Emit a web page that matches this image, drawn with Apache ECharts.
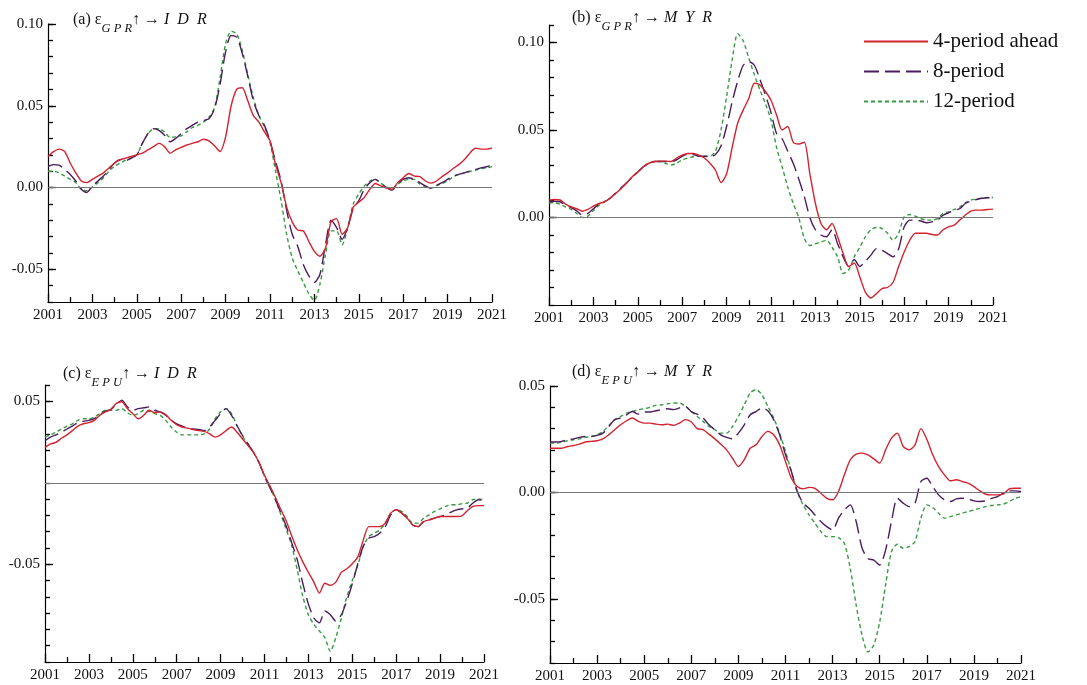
<!DOCTYPE html>
<html><head><meta charset="utf-8">
<script src="https://cdn.jsdelivr.net/npm/echarts@6/dist/echarts.min.js"></script>
<style>html,body{margin:0;padding:0;background:#fff}#c{width:1087px;height:685px}</style>
</head><body><div id="c"></div>
<script>
const quarters = [2001,2001.25,2001.5,2001.75,2002,2002.25,2002.5,2002.75,2003,2003.25,2003.5,2003.75,2004,2004.25,2004.5,2004.75,2005,2005.25,2005.5,2005.75,2006,2006.25,2006.5,2006.75,2007,2007.25,2007.5,2007.75,2008,2008.25,2008.5,2008.75,2009,2009.25,2009.5,2009.75,2010,2010.25,2010.5,2010.75,2011,2011.25,2011.5,2011.75,2012,2012.25,2012.5,2012.75,2013,2013.25,2013.5,2013.75,2014,2014.25,2014.5,2014.75,2015,2015.25,2015.5,2015.75,2016,2016.25,2016.5,2016.75,2017,2017.25,2017.5,2017.75,2018,2018.25,2018.5,2018.75,2019,2019.25,2019.5,2019.75,2020,2020.25,2020.5,2020.75,2021];
const seriesNames = ['4-period ahead','8-period','12-period'];

// (a) GPR -> IDR
const aRed = [0.019,0.022,0.0235,0.022, 0.015,0.009,0.004,0.003, 0.005,0.007,0.009,0.012, 0.015,0.017,0.018,0.019, 0.020,0.021,0.023,0.025, 0.027,0.025,0.021,0.023, 0.0245,0.026,0.027,0.028, 0.0295,0.0285,0.0255,0.022, 0.031,0.050,0.060,0.061, 0.053,0.044,0.040,0.034, 0.0285,0.014,0.003,-0.012, -0.021,-0.026,-0.0265,-0.033, -0.039,-0.042,-0.037,-0.021, -0.019,-0.0286,-0.0245,-0.012, -0.009,-0.006,-0.001,0.0025, 0.001,-0.0004,-0.001,0.003, 0.006,0.0086,0.007,0.0067, 0.004,0.0027,0.004,0.0067, 0.009,0.0116,0.014,0.017, 0.021,0.024,0.0235,0.0235, 0.024];
const aPurple = [0.013,0.014,0.0137,0.011, 0.008,0.004,-0.001,-0.003, 0.001,0.004,0.007,0.011, 0.015,0.017,0.0165,0.018, 0.020,0.027,0.033,0.036, 0.035,0.032,0.028,0.030, 0.033,0.036,0.038,0.040, 0.041,0.042,0.048,0.063, 0.083,0.093,0.092,0.082, 0.068,0.053,0.044,0.038, 0.0285,0.016,0.004,-0.014, -0.0286,-0.036,-0.047,-0.054, -0.058,-0.053,-0.035,-0.020, -0.0245,-0.0316,-0.0245,-0.013, -0.008,-0.001,0.003,0.005, 0.0025,0,-0.0016,0.0025, 0.005,0.006,0.005,0.003, 0.001,-0.0004,0.0014,0.003, 0.005,0.007,0.008,0.009, 0.010,0.011,0.012,0.0127, 0.0137];
const aGreen = [0.010,0.010,0.009,0.007, 0.005,0.003,-0.001,-0.002, 0.0004,0.003,0.006,0.010, 0.013,0.015,0.0167,0.018, 0.020,0.027,0.0327,0.036, 0.036,0.034,0.0306,0.031, 0.0316,0.034,0.0367,0.038, 0.040,0.043,0.049,0.067, 0.088,0.0955,0.094,0.084, 0.069,0.055,0.044,0.037, 0.0275,0.010,-0.008,-0.0286, -0.043,-0.051,-0.058,-0.065, -0.069,-0.059,-0.041,-0.0265, -0.0265,-0.035,-0.0245,-0.010, -0.004,0.001,0.004,0.005, 0.0025,0.0004,-0.001,0.002, 0.004,0.005,0.005,0.002, 0.0006,-0.0004,0.001,0.0025, 0.004,0.0065,0.008,0.009, 0.0098,0.0106,0.0116,0.012, 0.0128];

// (b) GPR -> MYR
const bRed = [0.0099,0.0103,0.010,0.0076, 0.006,0.005,0.0036,0.0046, 0.0065,0.008,0.009,0.011, 0.0137,0.0166,0.0198,0.0233, 0.026,0.029,0.031,0.032, 0.0322,0.0322,0.032,0.034, 0.0357,0.0366,0.0366,0.0357, 0.034,0.031,0.027,0.020, 0.025,0.040,0.054,0.0615, 0.068,0.0767,0.0758,0.072, 0.067,0.0586,0.050,0.052, 0.043,0.042,0.043,0.025, 0.008,-0.0034,-0.007,-0.0034, -0.011,-0.0206,-0.028,-0.026, -0.034,-0.0426,-0.046,-0.0435, -0.0406,-0.040,-0.037,-0.028, -0.0197,-0.013,-0.009,-0.009, -0.009,-0.0097,-0.010,-0.007, -0.0053,-0.0044,-0.0015,0.0013, 0.0036,0.0042,0.0042,0.0046, 0.0048];
const bPurple = [0.009,0.0093,0.009,0.007, 0.0057,0.0038,0.0013,0.0023, 0.005,0.0076,0.009,0.011, 0.014,0.017,0.0198,0.0233, 0.026,0.029,0.031,0.032, 0.032,0.032,0.032,0.033, 0.035,0.036,0.036,0.035, 0.035,0.0347,0.036,0.041, 0.052,0.066,0.078,0.087, 0.089,0.087,0.079,0.070, 0.060,0.048,0.045,0.038, 0.031,0.022,0.012,0.000, -0.007,-0.010,-0.011,-0.007, -0.015,-0.0225,-0.028,-0.024, -0.028,-0.025,-0.0215,-0.0178, -0.0187,-0.0206,-0.0225,-0.0178, -0.0053,-0.0015,-0.0015,-0.002, -0.003,-0.0025,-0.0015,0.0013, 0.0027,0.0042,0.005,0.008, 0.0094,0.0103,0.011,0.0113, 0.0113];
const bGreen = [0.0084,0.0084,0.0076,0.006, 0.0046,0.0023,0,0.0008, 0.004,0.007,0.009,0.011, 0.0137,0.0166,0.0198,0.023, 0.026,0.029,0.031,0.032, 0.032,0.031,0.030,0.031, 0.033,0.034,0.0347,0.035, 0.035,0.035,0.038,0.050, 0.069,0.090,0.105,0.101, 0.091,0.0815,0.073,0.065, 0.0557,0.040,0.029,0.0176, 0.008,0.000,-0.012,-0.016, -0.015,-0.014,-0.013,-0.017, -0.0225,-0.032,-0.030,-0.0225, -0.017,-0.011,-0.007,-0.0057, -0.0063,-0.009,-0.013,-0.009, 0.0004,0.0017,0.0008,-0.0006, -0.0015,-0.0015,-0.0006,0.0023, 0.0032,0.0046,0.006,0.0084, 0.0099,0.0107,0.011,0.0114, 0.0114];

// (c) EPU -> IDR
const cRed = [0.0217,0.0238,0.0248,0.0273, 0.0294,0.032,0.0348,0.0362, 0.0369,0.0383,0.0414,0.0435, 0.045,0.0487,0.0497,0.0455, 0.0424,0.0393,0.0414,0.0445, 0.043,0.0435,0.0418,0.0383, 0.0356,0.0342,0.0335,0.0327, 0.032,0.0315,0.030,0.028, 0.0294,0.032,0.0342,0.031, 0.0269,0.0228,0.0186,0.0124, 0.0046,-0.002,-0.009,-0.0166, -0.0238,-0.033,-0.0414,-0.0487, -0.055,-0.061,-0.0677,-0.0617, -0.063,-0.061,-0.055,-0.0528, -0.0497,-0.0455,-0.0352,-0.0269, -0.0269,-0.0269,-0.0248,-0.0186, -0.0166,-0.0186,-0.0217,-0.0259, -0.0269,-0.0238,-0.0228,-0.0217, -0.0207,-0.0207,-0.0207,-0.0207, -0.0203,-0.017,-0.0145,-0.014, -0.014];
const cPurple = [0.0259,0.028,0.0294,0.031, 0.033,0.0348,0.0369,0.0377, 0.0383,0.0393,0.0418,0.0439, 0.045,0.048,0.0507,0.0466, 0.0445,0.0455,0.046,0.0466, 0.0445,0.0435,0.0414,0.0383, 0.0362,0.0348,0.0335,0.033, 0.0327,0.032,0.0342,0.0383, 0.0424,0.0455,0.0414,0.035, 0.029,0.0238,0.0186,0.0124, 0.004,-0.003,-0.0104,-0.0186, -0.027,-0.0373,-0.0476,-0.062, -0.0745,-0.083,-0.086,-0.0787, -0.081,-0.0849,-0.081,-0.0725, -0.062,-0.0497,-0.039,-0.034, -0.033,-0.031,-0.027,-0.0197, -0.0166,-0.0186,-0.0217,-0.0259, -0.0269,-0.0238,-0.0228,-0.0217, -0.0207,-0.0197,-0.018,-0.0166, -0.016,-0.0155,-0.0124,-0.0104, -0.011];
const cGreen = [0.028,0.0294,0.031,0.033, 0.0348,0.0362,0.0383,0.0393, 0.0393,0.0404,0.0424,0.0445, 0.0445,0.0445,0.0455,0.043, 0.0414,0.0424,0.0445,0.0439, 0.0424,0.0414,0.0383,0.0342, 0.031,0.0294,0.0294,0.0294, 0.0294,0.030,0.033,0.0393, 0.0435,0.0455,0.0424,0.035, 0.0286,0.0238,0.0186,0.0124, 0.004,-0.003,-0.0104,-0.0197, -0.029,-0.039,-0.054,-0.070, -0.081,-0.087,-0.091,-0.095, -0.1035,-0.095,-0.083,-0.070, -0.060,-0.0507,-0.039,-0.033, -0.031,-0.029,-0.0248,-0.0186, -0.0166,-0.0176,-0.0207,-0.0248, -0.0248,-0.0217,-0.0197,-0.0176, -0.016,-0.0145,-0.0135,-0.0135, -0.0128,-0.0124,-0.0104,-0.0099, -0.0104];

// (d) EPU -> MYR
const dRed = [0.0208,0.0208,0.0208,0.0216, 0.0221,0.0227,0.0237,0.024, 0.0243,0.0252,0.0271,0.0295, 0.0318,0.0337,0.035,0.0334, 0.0326,0.0326,0.0321,0.0318, 0.0321,0.0315,0.0326,0.0342, 0.0331,0.030,0.0295,0.0274, 0.0252,0.0227,0.020,0.0161, 0.0122,0.0154,0.0208,0.0224, 0.0263,0.0287,0.0271,0.0224, 0.0146,0.0067,0.0028,0.0017, 0.0024,0.002,-0.0003,-0.0027, -0.0034,0.0005,0.0083,0.0154, 0.018,0.0185,0.0177,0.0158, 0.0138,0.020,0.0255,0.0279, 0.0216,0.020,0.0224,0.030, 0.025,0.0177,0.0122,0.0083, 0.0055,0.006,0.0052,0.0044, 0.0028,0.0008,-0.0008,-0.0011, -0.0011,-0.0008,0.0017,0.002, 0.002];
const dPurple = [0.0237,0.0237,0.024,0.0248, 0.0252,0.0259,0.0263,0.0263, 0.0268,0.0279,0.031,0.0342, 0.035,0.0365,0.038,0.0368, 0.0378,0.0378,0.0384,0.0389, 0.0393,0.0389,0.0397,0.0404, 0.038,0.0368,0.035,0.0318, 0.0295,0.0271,0.0259,0.0252, 0.0279,0.0318,0.0365,0.038, 0.0397,0.0384,0.0342,0.0271, 0.0177,0.0099,0.0005,-0.005, -0.0074,-0.0105,-0.0136,-0.016, -0.0176,-0.012,-0.0082,-0.0058, -0.0136,-0.026,-0.031,-0.0317, -0.034,-0.027,-0.0136,-0.0027, -0.005,-0.0066,-0.005,0.0052, 0.0067,0.0028,-0.0011,-0.0034, -0.0042,-0.003,-0.0027,-0.003, -0.0039,-0.0042,-0.0039,-0.0027, -0.0019,-0.0003,0.0008,0.0008, 0.0005];
const dGreen = [0.0232,0.0232,0.0237,0.0243, 0.0248,0.0252,0.0259,0.0263, 0.0271,0.0287,0.0315,0.0342, 0.0357,0.0373,0.038,0.0389, 0.0393,0.040,0.0409,0.0412, 0.0417,0.042,0.042,0.0404, 0.038,0.0357,0.0334,0.031, 0.0295,0.0279,0.0279,0.031, 0.0357,0.0412,0.0467,0.0483, 0.0459,0.0404,0.035,0.0279, 0.0193,0.0099,0.0005,-0.0058, -0.0105,-0.0144,-0.0183,-0.0207, -0.0207,-0.0212,-0.0238,-0.0356, -0.0528,-0.0669,-0.0748,-0.0716, -0.0607,-0.0434,-0.0277,-0.0243, -0.0262,-0.0254,-0.023,-0.012, -0.0058,-0.007,-0.0097,-0.012, -0.0113,-0.0105,-0.0097,-0.0089, -0.0082,-0.0074,-0.0066,-0.0061, -0.0058,-0.0055,-0.0042,-0.0027, -0.0019];

const panelTitles = [
  '{n|(a) ε}{s|G P R}{n|↑ → }{i|I  D  R}',
  '{n|(b) ε}{s|G P R}{n|↑ → }{i|M  Y  R}',
  '{n|(c) ε}{s|E P U}{n|↑ → }{i|I  D  R}',
  '{n|(d) ε}{s|E P U}{n|↑ → }{i|M  Y  R}'
];
const yLimits = [[-0.07,0.10],[-0.05,0.11],[-0.11,0.06],[-0.08,0.05]];
const yLabelValues = [[-0.05,0,0.05,0.10],[0,0.05,0.10],[-0.05,0.05],[-0.05,0,0.05]];
const panelData = [[aRed,aPurple,aGreen],[bRed,bPurple,bGreen],[cRed,cPurple,cGreen],[dRed,dPurple,dGreen]];

// ---------- layout / styling ----------
const FONT = 'Liberation Serif';
const grids = [
  {left:48, top:24, width:444, height:278},
  {left:549, top:25, width:444, height:280},
  {left:45, top:385, width:439, height:277},
  {left:550, top:386, width:471, height:277}
];
const titlePos = [[73,12],[572,10],[63,366],[572,364]];
const colors = ['#d2232f','#4a1d5e','#3a9a44'];
const lineTypes = ['solid',[15,6],[4,3]];
const tickStyle = {color:'#000',width:1.3};

const rich = {
  n:{fontFamily:FONT,fontSize:16,fontWeight:'normal',color:'#111',lineHeight:23,verticalAlign:'top'},
  s:{fontFamily:FONT,fontSize:12.5,fontWeight:'normal',fontStyle:'italic',color:'#111',lineHeight:23,verticalAlign:'bottom'},
  i:{fontFamily:FONT,fontSize:16,fontWeight:'normal',fontStyle:'italic',color:'#111',lineHeight:23,verticalAlign:'top'}
};

const option = {
  animation:false,
  backgroundColor:'#fff',
  title: panelTitles.map((t,i)=>({text:t,left:titlePos[i][0],top:titlePos[i][1],padding:0,
    textStyle:{fontWeight:'normal',fontFamily:FONT,rich}})),
  legend:{
    data:seriesNames, orient:'vertical', left:858, top:26, itemWidth:64, itemHeight:12, itemGap:9,
    itemStyle:{opacity:0, borderWidth:0},
    textStyle:{fontFamily:FONT,fontSize:21,color:'#111'}
  },
  grid: grids,
  xAxis: grids.map((g,i)=>({
    type:'value', gridIndex:i, min:2001, max:2021, interval:2,
    axisLine:{onZero:false,lineStyle:{color:'#000',width:1.2}},
    axisTick:{show:true,inside:true,length:8,lineStyle:tickStyle},
    minorTick:{show:true,splitNumber:2,length:5,lineStyle:tickStyle},
    splitLine:{show:false}, minorSplitLine:{show:false},
    axisLabel:{fontFamily:FONT,fontSize:15,color:'#111',margin:6,formatter:v=>String(v)}
  })),
  yAxis: [].concat(...grids.map((g,i)=>[
    {type:'value', gridIndex:i, position:'left', min:yLimits[i][0], max:yLimits[i][1],
     axisLine:{show:true,onZero:false,lineStyle:{color:'#000',width:1.2}},
     axisTick:{show:true,inside:true,length:8,customValues:yLabelValues[i],lineStyle:tickStyle},
     axisLabel:{show:true,customValues:yLabelValues[i],fontFamily:FONT,fontSize:15,color:'#111',margin:5,formatter:v=>v.toFixed(2)},
     splitLine:{show:false}},
    {type:'value', gridIndex:i, position:'left', offset:0, min:yLimits[i][0], max:yLimits[i][1], interval:0.01,
     axisLine:{show:false}, axisTick:{show:true,inside:true,length:5,lineStyle:tickStyle},
     axisLabel:{show:false}, splitLine:{show:false}}
  ])),
  series: []
};

panelData.forEach((sets,i)=>{
  [2,1,0].forEach(k=>{
    const s = {
      name:seriesNames[k], type:'line', xAxisIndex:i, yAxisIndex:2*i,
      data:quarters.map((x,j)=>[x,sets[k][j]]),
      showSymbol:false, symbol:'none', smooth:0.25,
      lineStyle:{color:colors[k],width:1.4,type:lineTypes[k]},
      itemStyle:{color:colors[k]}, z:2+(2-k)
    };
    if(k===0){
      s.markLine={silent:true,symbol:'none',label:{show:false},
        lineStyle:{color:'#777',width:1,type:'solid'},data:[{yAxis:0}]};
    }
    option.series.push(s);
  });
});

echarts.init(document.getElementById('c')).setOption(option);
</script>
</body></html>
